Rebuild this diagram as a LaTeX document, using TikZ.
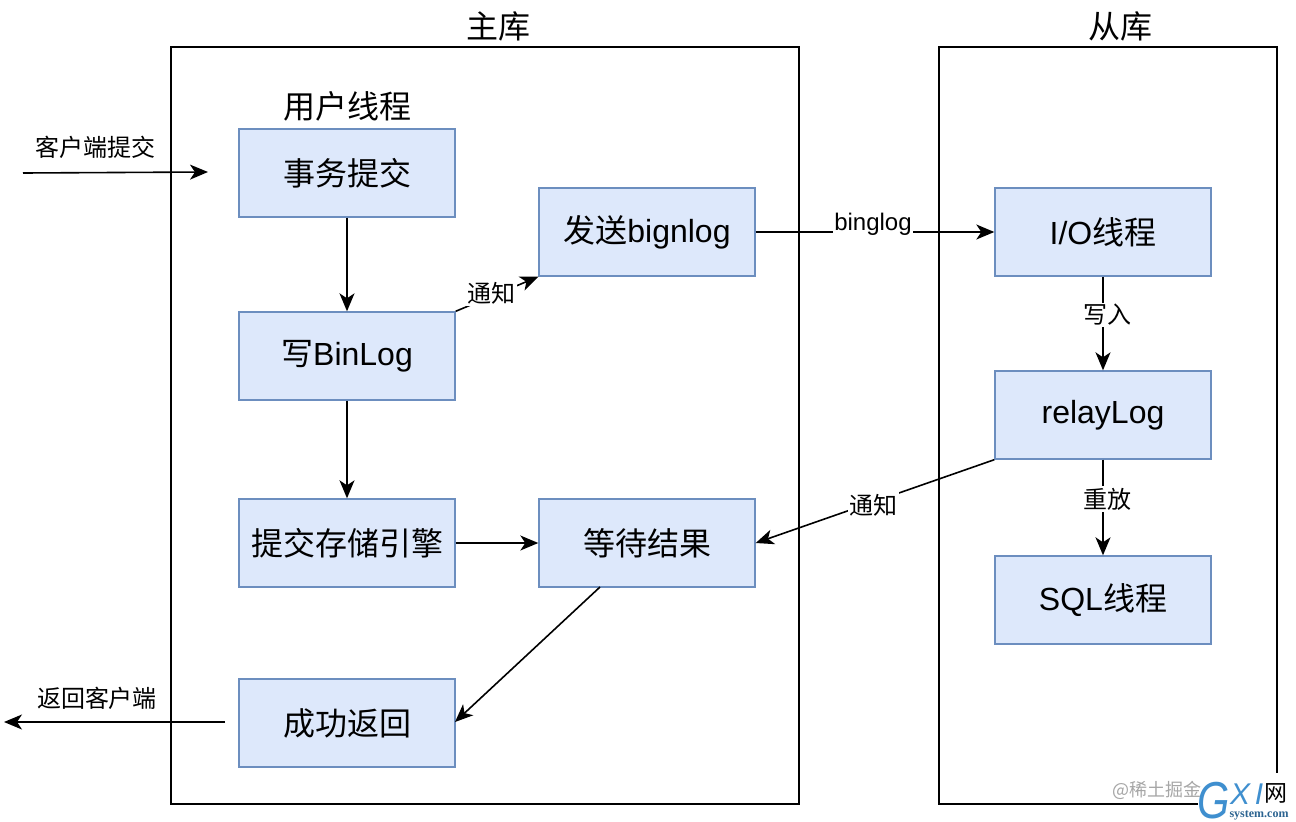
\documentclass[tikz,border=0pt]{standalone}
\usepackage{fontspec}
\setmainfont{Liberation Sans}
\newfontfamily\cjk{Noto Sans CJK SC}
\usetikzlibrary{arrows.meta}
\definecolor{boxfill}{HTML}{DDE8FB}
\definecolor{boxline}{HTML}{6C8EBF}
\definecolor{logoblue}{HTML}{3F8FCF}
\tikzset{
  stagebox/.style={draw=boxline,fill=boxfill,line width=1.4pt,minimum width=216pt,minimum height=88pt,inner sep=0pt,font=\fontsize{32}{36}\selectfont},
  frame/.style={draw=black,line width=1.7pt,fill=none},
  flow/.style={draw=black,line width=1.6pt,-{Stealth[length=18pt,width=15pt,inset=5pt]}},
  edgelabel/.style={fill=white,inner sep=1.5pt,font=\fontsize{24}{28}\selectfont},
  freelabel/.style={inner sep=0pt,font=\fontsize{24}{28}\selectfont\cjk},
  heading/.style={inner sep=0pt,font=\fontsize{32}{36}\selectfont\cjk}
}
\begin{document}
\begin{tikzpicture}[x=1pt,y=-1pt]
\useasboundingbox (0,0) rectangle (1296,822);
\fill[white] (0,0) rectangle (1296,822);
\draw[frame] (171,47) rectangle (799,804);
\draw[frame] (1198,804) -- (939,804) -- (939,47) -- (1277,47) -- (1277,773);
\node[heading] (master) at (498,26) {主库};
\node[heading] (slave) at (1120,26) {从库};
\node[heading] (usr) at (347,106) {用户线程};
\node[stagebox] (tx) at (347,173) {\raisebox{1.5pt}{\cjk 事务提交}};
\node[stagebox] (write) at (347,356) {\raisebox{-2pt}{\cjk 写\normalfont BinLog}};
\node[stagebox] (engine) at (347,543) {\cjk 提交存储引擎};
\node[stagebox] (ok) at (347,723) {\raisebox{1pt}{\cjk 成功返回}};
\node[stagebox] (send) at (647,232) {\raisebox{-2pt}{\cjk 发送\normalfont bignlog}};
\node[stagebox] (wait) at (647,543) {\cjk 等待结果};
\node[stagebox] (io) at (1103,232) {\raisebox{1pt}{I/O\cjk 线程}};
\node[stagebox] (relay) at (1103,415) {\raisebox{-3pt}{relayLog}};
\node[stagebox] (sql) at (1103,600) {SQL\cjk 线程};
\coordinate (inA) at (23,173);
\coordinate (inB) at (208,172);
\coordinate (outA) at (225,722);
\coordinate (outB) at (4,722);
\coordinate (waitOut) at (600,587);
\coordinate (okIn) at (455,722);
\draw[flow] (inA) -- (inB);
\draw[flow] (tx) -- (write);
\draw[flow] (write) -- (engine);
\draw[flow] (write.north east) -- (send.south west);
\draw[flow] (send) -- (io);
\draw[flow] (io) -- (relay);
\draw[flow] (relay) -- (sql);
\draw[flow] (relay.south west) -- (wait.east);
\draw[flow] (engine) -- (wait);
\draw[flow] (waitOut) -- (okIn);
\draw[flow] (outA) -- (outB);
\node[freelabel] (lin) at (95,147) {客户端提交};
\node[freelabel] (lout) at (97,698) {返回客户端};
\node[edgelabel] (n1) at (491,293) {\cjk 通知};
\node[edgelabel] (bl) at (873,224) {binglog};
\node[edgelabel] (wr) at (1107,315) {\cjk 写入};
\node[edgelabel] (rp) at (1107,499) {\cjk 重放};
\node[edgelabel] (n2) at (873,505) {\cjk 通知};
\node[inner sep=0pt,text=black!35,font=\fontsize{18}{20}\selectfont\cjk] (jj) at (1157,790) {@稀土掘金};
\node[inner sep=0pt,text=logoblue,font=\fontsize{52}{52}\selectfont\itshape] (lg) at (1214,801) {\scalebox{.8}[1]{G}};
\node[inner sep=0pt,text=logoblue,font=\fontsize{30}{30}\selectfont\itshape] (lx) at (1240,794) {X};
\node[inner sep=0pt,text=logoblue,font=\fontsize{30}{30}\selectfont\itshape] (li) at (1259,794) {I};
\node[inner sep=0pt,font=\fontsize{23}{23}\selectfont\cjk] (lw) at (1276,793) {网};
\node[inner sep=0pt,text=logoblue!70!black,font=\fontsize{12}{12}\selectfont\bfseries\fontspec{Liberation Serif}] (ls) at (1259,815) {system.com};
\end{tikzpicture}
\end{document}
